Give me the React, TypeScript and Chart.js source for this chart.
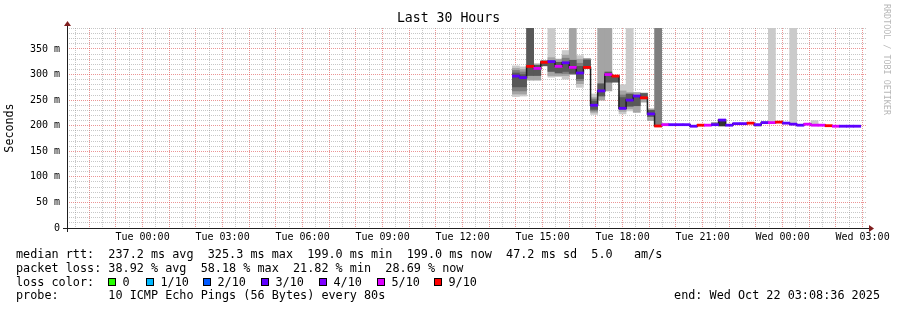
import React, { useEffect, useRef } from 'react';
import { Chart, registerables } from 'chart.js';

Chart.register(...registerables);

// ---------- axis definitions (hours relative to Tue 00:00) ----------
const X_START_HOUR = -(2 + 50 / 60); // Mon 21:10 (30 hour window)
const X_END_HOUR = X_START_HOUR + 30; // Wed 03:10
const xTickHours = [0, 3, 6, 9, 12, 15, 18, 21, 24, 27];
const xTickLabels = ['Tue 00:00', 'Tue 03:00', 'Tue 06:00', 'Tue 09:00', 'Tue 12:00', 'Tue 15:00', 'Tue 18:00', 'Tue 21:00', 'Wed 00:00', 'Wed 03:00'];

const Y_MAX_MS = 391;
const yTickValues = [0, 50, 100, 150, 200, 250, 300, 350];
const yTickLabels = ['0', '50 m', '100 m', '150 m', '200 m', '250 m', '300 m', '350 m'];

// ---------- data bins (16 minute consolidation, first bin Tue 13:52) ----------
const FIRST_BIN_HOUR = 13 + 52 / 60;
const BIN_MINUTES = 16;

// median round trip time per bin (ms)
const medianMs = [
  297, 294, 316, 312, 324, 325.3, 316, 323, 314, 303,
  314, 240, 268, 300, 297, 234, 250, 258, 254.5, 223,
  199.4, 202, 202, 202, 202, 199, 201, 201, 202, 211,
  201, 204, 204, 205, 202, 206, 206, 207, 205, 203,
  201, 203, 201, 201, 200, 199, 199, 199, 199,
];

// lost pings (out of 10) per bin
const lossPings = [
  2.9, 2.9, 5.7, 4.6, 5.7, 2.9, 4.6, 2.9, 4.6, 2.9,
  5.7, 2.9, 2.9, 4.6, 5.7, 2.9, 2.9, 2.9, 5.7, 2.9,
  5.7, 4.6, 2.9, 2.9, 2.9, 2.9, 5.7, 4.6, 2.9, 2.9,
  2.9, 2.9, 2.9, 5.7, 2.9, 2.9, 4.6, 5.8, 2.9, 2.9,
  2.9, 4.6, 4.6, 4.6, 5.7, 4.6, 2.9, 2.9, 2.87,
];

// smoke layers: [bin, low ping ms, high ping ms]; pings above the graph top run off the top
const smokeA = [
  [0, 257, 317], [1, 258, 315], [5, 295, 480], [6, 296, 330], [7, 291, 347], [9, 275, 337],
  [11, 222, 262], [15, 223, 280], [16, 229, 480], [21, 200, 205], [36, 205, 480], [39, 203, 480], [42, 201, 210],
];
const smokeB = [
  [0, 262, 312], [1, 262, 310], [2, 289, 480], [3, 289, 321], [5, 298, 333], [6, 298, 330], [7, 298, 338],
  [8, 300, 480], [9, 282, 330], [11, 226, 255], [12, 250, 480], [13, 268, 480], [15, 228, 268], [16, 233, 265],
  [17, 226, 265], [18, 246, 264], [19, 210, 233], [34, 199, 203], [35, 204, 208],
];
const smokeC = [
  [0, 268, 308], [1, 268, 305], [7, 302, 332], [9, 288, 322], [10, 312, 331], [11, 229, 252],
  [15, 232, 260], [20, 200, 480], [28, 201, 206], [29, 199, 210],
];
const smokeD = [
  [0, 276, 303], [1, 276, 300], [2, 298, 480], [3, 298, 318], [4, 317, 327], [5, 306, 322], [6, 303, 324],
  [7, 306, 320], [8, 302, 328], [9, 292, 316], [10, 314, 328], [11, 232, 248], [12, 258, 282], [13, 285, 305],
  [14, 285, 296], [15, 236, 255], [16, 238, 262], [17, 239, 258], [18, 254, 263], [19, 218, 230],
];
const smokeE = [[29, 200, 209]];

const MEDIAN_HALF_MS = 2.1;

// loss colour legend
const lossLevels = [0, 1, 2, 3, 4, 5, 9];
const lossLabels = ['0', '1/10', '2/10', '3/10', '4/10', '5/10', '9/10'];
const lossColors = ['#26ff00', '#00b8ff', '#0059ff', '#5e00ff', '#7e00ff', '#dd00ff', '#ff0000'];

const rttStats = ['237.2 ms avg', '325.3 ms max', '199.0 ms min', '199.0 ms now', '47.2 ms sd', '5.0   am/s'];
const lossStats = ['38.92 % avg', '58.18 % max', '21.82 % min', '28.69 % now'];
const probeText = '10 ICMP Echo Pings (56 Bytes) every 80s';
const endText = 'end: Wed Oct 22 03:08:36 2025';

// ---------- styling ----------
const MONO = "'DejaVu Sans Mono', monospace";
const MINOR_GRID = 'rgba(143,143,143,0.5)';
const MAJOR_GRID = 'rgba(222,79,79,0.6)';
const AXIS_COLOR = '#1f1f1f';
const ARROW_COLOR = '#801f1f';

const binCenter = (i: number) => FIRST_BIN_HOUR + ((i + 0.5) * BIN_MINUTES) / 60;
const lossColor = (loss: number) => {
  for (let k = 0; k < lossLevels.length; k++) if (loss <= lossLevels[k]) return lossColors[k];
  return lossColors[lossColors.length - 1];
};

const axesPlugin = {
  id: 'rrdAxes',
  afterDraw(chart: any) {
    const { ctx, chartArea: a } = chart;
    ctx.save();
    ctx.strokeStyle = AXIS_COLOR;
    ctx.lineWidth = 1;
    ctx.beginPath();
    ctx.moveTo(a.left - 4, a.bottom + 0.5);
    ctx.lineTo(a.right + 4, a.bottom + 0.5);
    ctx.moveTo(a.left + 0.5, a.bottom + 4);
    ctx.lineTo(a.left + 0.5, a.top - 4);
    ctx.stroke();
    ctx.fillStyle = ARROW_COLOR;
    ctx.beginPath();
    ctx.moveTo(a.right + 2, a.bottom - 3);
    ctx.lineTo(a.right + 2, a.bottom + 4);
    ctx.lineTo(a.right + 7, a.bottom + 0.5);
    ctx.closePath();
    ctx.fill();
    ctx.beginPath();
    ctx.moveTo(a.left - 3, a.top - 2);
    ctx.lineTo(a.left + 4, a.top - 2);
    ctx.lineTo(a.left + 0.5, a.top - 7);
    ctx.closePath();
    ctx.fill();
    ctx.restore();
  },
};

export default function App() {
  const canvasRef = useRef<HTMLCanvasElement>(null);

  useEffect(() => {
    if (!canvasRef.current) return;
    const xGrid: number[] = [];
    for (let h = Math.ceil(X_START_HOUR * 2) / 2; h <= X_END_HOUR; h += 0.5) xGrid.push(h);
    const yGrid: number[] = [];
    for (let v = 0; v <= Y_MAX_MS; v += 10) yGrid.push(v);

    const layers = [
      { rows: smokeA, color: '#cacaca' },
      { rows: smokeB, color: '#a4a4a4' },
      { rows: smokeC, color: '#7e7e7e' },
      { rows: smokeD, color: '#585858' },
      { rows: smokeE, color: '#323232' },
    ];
    const barCommon = { borderWidth: 0, grouped: false, barPercentage: 1, categoryPercentage: 1 };

    const datasets: any[] = [
      ...layers.map((L, k) => ({
        type: 'bar',
        data: L.rows.map(([b, lo, hi]) => ({ x: binCenter(b), y: [lo, hi] })),
        backgroundColor: L.color,
        order: 10 - k,
        ...barCommon,
      })),
      {
        type: 'line',
        data: medianMs.map((m, i) => ({ x: binCenter(i), y: m })),
        borderColor: '#202020',
        borderWidth: 1.5,
        stepped: 'middle',
        pointRadius: 0,
        order: 1,
      },
      {
        type: 'bar',
        data: medianMs.map((m, i) => ({ x: binCenter(i), y: [m - MEDIAN_HALF_MS, m + MEDIAN_HALF_MS] })),
        backgroundColor: medianMs.map((_, i) => lossColor(lossPings[i])),
        order: 0,
        ...barCommon,
      },
    ];

    const chart = new Chart(canvasRef.current, {
      type: 'bar',
      data: { datasets },
      plugins: [axesPlugin],
      options: {
        animation: false,
        responsive: false,
        devicePixelRatio: 1,
        events: [],
        layout: { padding: 0 },
        plugins: {
          legend: { display: false },
          tooltip: { enabled: false },
          title: {
            display: true,
            text: 'Last 30 Hours',
            color: '#000',
            font: { family: MONO, size: 13.2, weight: 'normal', lineHeight: 1.2 },
            padding: { top: 11, bottom: 1.16 },
          },
        },
        scales: {
          x: {
            type: 'linear',
            min: X_START_HOUR,
            max: X_END_HOUR,
            offset: false,
            z: 1,
            afterBuildTicks: (s: any) => {
              s.ticks = xGrid.map((v) => ({ value: v }));
            },
            afterFit: (s: any) => {
              s.height = 82;
            },
            grid: {
              offset: false,
              drawTicks: false,
              lineWidth: 1,
              color: (c: any) => (c.tick && Number.isInteger(c.tick.value) ? MAJOR_GRID : MINOR_GRID),
            },
            border: { display: false, dash: [1, 1] },
            ticks: {
              autoSkip: false,
              maxRotation: 0,
              minRotation: 0,
              padding: 3.5,
              color: '#000',
              font: { family: MONO, size: 10 },
              callback: (v: any) => {
                const k = xTickHours.indexOf(Number(v));
                return k >= 0 ? xTickLabels[k] : '';
              },
            },
          },
          y: {
            type: 'linear',
            min: 0,
            max: Y_MAX_MS,
            z: 1,
            afterBuildTicks: (s: any) => {
              s.ticks = yGrid.map((v) => ({ value: v }));
            },
            afterFit: (s: any) => {
              s.width = 67;
            },
            grid: {
              drawTicks: false,
              lineWidth: 1,
              color: (c: any) => (c.tick && c.tick.value % 50 === 0 ? MAJOR_GRID : MINOR_GRID),
            },
            border: { display: false, dash: [1, 1] },
            title: {
              display: true,
              text: 'Seconds',
              color: '#000',
              font: { family: MONO, size: 11.7 },
              padding: { top: 3, bottom: 0 },
            },
            ticks: {
              autoSkip: false,
              padding: 7,
              color: '#000',
              font: { family: MONO, size: 10 },
              callback: (v: any) => {
                const k = yTickValues.indexOf(Number(v));
                return k >= 0 ? yTickLabels[k] : '';
              },
            },
          },
          yRight: {
            type: 'linear',
            position: 'right',
            display: true,
            grid: { display: false, drawTicks: false },
            border: { display: false },
            ticks: { display: false },
            afterFit: (s: any) => {
              s.width = 30;
            },
          },
        },
      } as any,
    });
    return () => chart.destroy();
  }, []);

  const row = (top: number): React.CSSProperties => ({
    position: 'absolute',
    left: 16,
    top,
    fontFamily: MONO,
    fontSize: 11.8,
    lineHeight: '14px',
    whiteSpace: 'pre',
    color: '#000',
  });
  const boxLefts = [108, 146, 203, 261, 319, 377, 434];

  return (
    <div style={{ position: 'fixed', left: 0, top: 0, width: 897, height: 310, background: '#fff', overflow: 'hidden' }}>
      <canvas ref={canvasRef} width={897} height={310} style={{ position: 'absolute', left: 0, top: 0, width: 897, height: 310 }} />
      <div style={row(247.2)}>{'median rtt:  ' + rttStats.join('  ')}</div>
      <div style={row(260.6)}>{'packet loss: ' + lossStats.join('  ')}</div>
      <div style={row(274.6)}>{'loss color:'}</div>
      {lossLabels.map((lab, k) => (
        <React.Fragment key={lab}>
          <div
            style={{
              position: 'absolute',
              left: boxLefts[k],
              top: 278,
              width: 8,
              height: 8,
              boxSizing: 'border-box',
              border: '1px solid #000',
              background: lossColors[k],
            }}
          />
          <div style={{ ...row(274.6), left: boxLefts[k] + 14.5 }}>{lab}</div>
        </React.Fragment>
      ))}
      <div style={row(288.2)}>{'probe:       ' + probeText}</div>
      <div style={{ ...row(288.2), left: 'auto', right: 17 }}>{endText}</div>
      <div
        style={{
          position: 'absolute',
          left: 882,
          top: 4,
          writingMode: 'vertical-rl',
          fontFamily: MONO,
          fontSize: 8.4,
          lineHeight: '10px',
          whiteSpace: 'pre',
          color: 'rgba(0,0,0,0.3)',
        }}
      >
        RRDTOOL / TOBI OETIKER
      </div>
    </div>
  );
}
